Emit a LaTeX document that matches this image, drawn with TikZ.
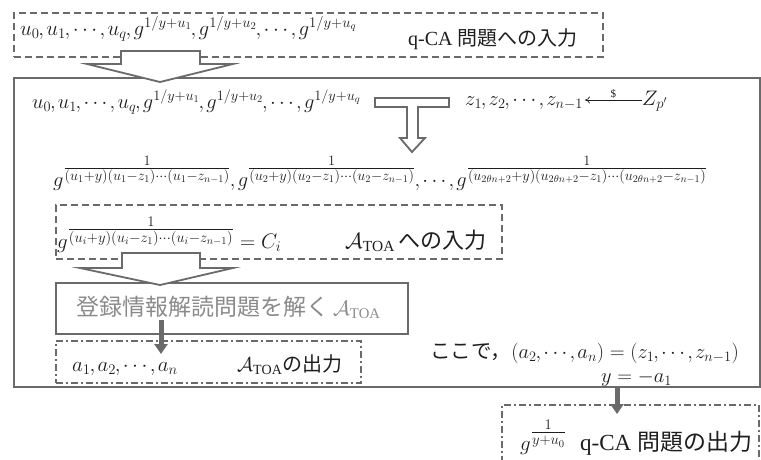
\RequirePackage{fix-cm}
\documentclass[tikz,border=0pt]{standalone}
\usepackage{amsmath}
\usepackage{fontspec}
\setmainfont{Liberation Serif}
\newfontfamily\jp{Noto Sans CJK JP}
\usetikzlibrary{arrows.meta}
\definecolor{lc}{HTML}{6A6A6A}
\definecolor{tc}{HTML}{1E1E1E}
\definecolor{gt}{HTML}{8A8A8A}
\newcommand\ef[1]{\genfrac{}{}{0.5pt}{1}{1}{#1}}
\newcommand\atoa{\mathcal{A}_{\mathrm{TOA}}}
\newcommand\cm{\mathpunct{\mkern-1mu,\mkern-1mu}}
\tikzset{
  solidbox/.style={draw=lc, line width=1.6pt, rectangle, inner sep=0pt, anchor=north west},
  dashbox/.style={draw=lc, line width=1.8pt, dash pattern=on 7pt off 4pt, rectangle, inner sep=0pt, anchor=north west},
  dashdotbox/.style={draw=lc, line width=1.5pt, dash pattern=on 7pt off 3pt on 2pt off 3pt, rectangle, inner sep=0pt, anchor=north west},
  blockarrow/.style={draw=lc, line width=1.8pt, fill=white, line join=miter},
  fatarrow/.style={draw=lc, line width=5pt, -{Triangle[width=13pt,length=10pt]}},
  thinarrow/.style={draw=tc, line width=0.7pt, -{To[length=5pt,width=7pt]}},
  txt/.style={inner sep=0pt, text=tc, anchor=base west},
}
\begin{document}
\begin{tikzpicture}[x=1pt,y=-1pt]
\useasboundingbox (0,0) rectangle (761,459);
\clip (0,0) rectangle (761,459);
% boxes
\node[solidbox, minimum width=746pt, minimum height=309pt] (mainbox) at (13,77) {};
\node[dashbox, minimum width=589pt, minimum height=44pt] (topbox) at (13,12) {};
\node[dashbox, minimum width=446pt, minimum height=54pt] (box2) at (55,204) {};
\node[solidbox, minimum width=352pt, minimum height=51pt] (box3) at (55,282) {};
\node[dashdotbox, minimum width=305pt, minimum height=42pt] (box4) at (55,340) {};
\node[dashdotbox, minimum width=257pt, minimum height=80pt] (box5) at (501,404) {};
% block arrows
\draw[blockarrow] (121,51) -- (121,64) -- (87,64) -- (160,82) -- (233,64) -- (200,64) -- (200,51) -- cycle;
\draw[blockarrow] (122,253) -- (122,268) -- (80,268) -- (160,285) -- (233,268) -- (200,268) -- (200,253) -- cycle;
\draw[blockarrow] (375,98) -- (449,98) -- (449,107) -- (418,107) -- (418,138) -- (425,138) -- (412,152) -- (400,138) -- (407,138) -- (407,107) -- (375,107) -- cycle;
% texts
\node[txt, font=\fontsize{21}{25}\selectfont] (t1) at (20,35) {$u_0\cm u_1\cm\cdots\cm u_q\cm g^{1/y+u_1}\cm g^{1/y+u_2}\cm\cdots\cm g^{1/y+u_q}$};
\node[txt, font=\fontsize{20}{24}\selectfont] (t1j) at (408,45) {q-CA {\jp 問題への入力}};
\node[txt, font=\fontsize{20.5}{25}\selectfont] (t2) at (32,108) {$u_0\cm u_1\cm\cdots\cm u_q\cm g^{1/y+u_1}\cm g^{1/y+u_2}\cm\cdots\cm g^{1/y+u_q}$};
\node[txt, font=\fontsize{20.5}{24}\selectfont] (zrow) at (465,105) {$z_1\cm z_2\cm\cdots\cm z_{n-1}$};
\node[txt, font=\fontsize{21}{25}\selectfont] (Zp) at (642,105) {$Z_{p'}$};
\draw[thinarrow] ([yshift=5pt]Zp.base west) -- ([yshift=5pt,xshift=2pt]zrow.base east) node[midway, above=1pt, font=\fontsize{11}{12}\selectfont, text=tc, inner sep=0pt] {\$};
\node[txt, font=\fontsize{20.5}{24}\selectfont] (frow) at (53,186) {$g^{\ef{(u_1+y)(u_1-z_1)\cdots(u_1-z_{n-1})}}\cm g^{\ef{(u_2+y)(u_2-z_1)\cdots(u_2-z_{n-1})}}\cm\cdots\cm g^{\ef{(u_{2\theta n+2}+y)(u_{2\theta n+2}-z_1)\cdots(u_{2\theta n+2}-z_{n-1})}}$};
\node[txt, font=\fontsize{21}{24}\selectfont] (b2f) at (57,248) {$g^{\ef{(u_i+y)(u_i-z_1)\cdots(u_i-z_{n-1})}}=C_i$};
\node[txt, font=\fontsize{22}{26}\selectfont] (b2t) at (345,248) {$\atoa$\,{\jp への入力}};
\node[inner sep=0pt, text=gt, anchor=west, font=\fontsize{23}{27}\selectfont] (b3t) at (76,307) {{\jp 登録情報解読問題を解く}\,{\fontsize{21}{25}\selectfont$\atoa$}};
\node[txt, font=\fontsize{21}{25}\selectfont] (arow) at (72,371) {$a_1\cm a_2\cm\cdots\cm a_n$};
\node[txt, font=\fontsize{20}{24}\selectfont] (b4t) at (237,371) {$\atoa${\jp の出力}};
\node[txt, font=\fontsize{20.5}{23}\selectfont] (koko) at (430,358) {{\jp ここで，}$(a_2\cm\cdots\cm a_n)=(z_1\cm\cdots\cm z_{n-1})$};
\node[txt, font=\fontsize{20.5}{23}\selectfont] (yeq) at (601,382) {$y=-a_1$};
\node[txt, font=\fontsize{21}{25}\selectfont] (b5f) at (520,450) {$g^{\ef{y+u_0}}$};
\node[txt, font=\fontsize{23}{27}\selectfont] (b5t) at (580,450) {q-CA {\jp 問題の出力}};
% fat arrows
\coordinate (fa1s) at (161,320);
\coordinate (fa1e) at (161,354);
\draw[fatarrow] (fa1s) -- (fa1e);
\coordinate (fa2s) at (617,387);
\coordinate (fa2e) at (617,414);
\draw[fatarrow] (fa2s) -- (fa2e);
\end{tikzpicture}
\end{document}
